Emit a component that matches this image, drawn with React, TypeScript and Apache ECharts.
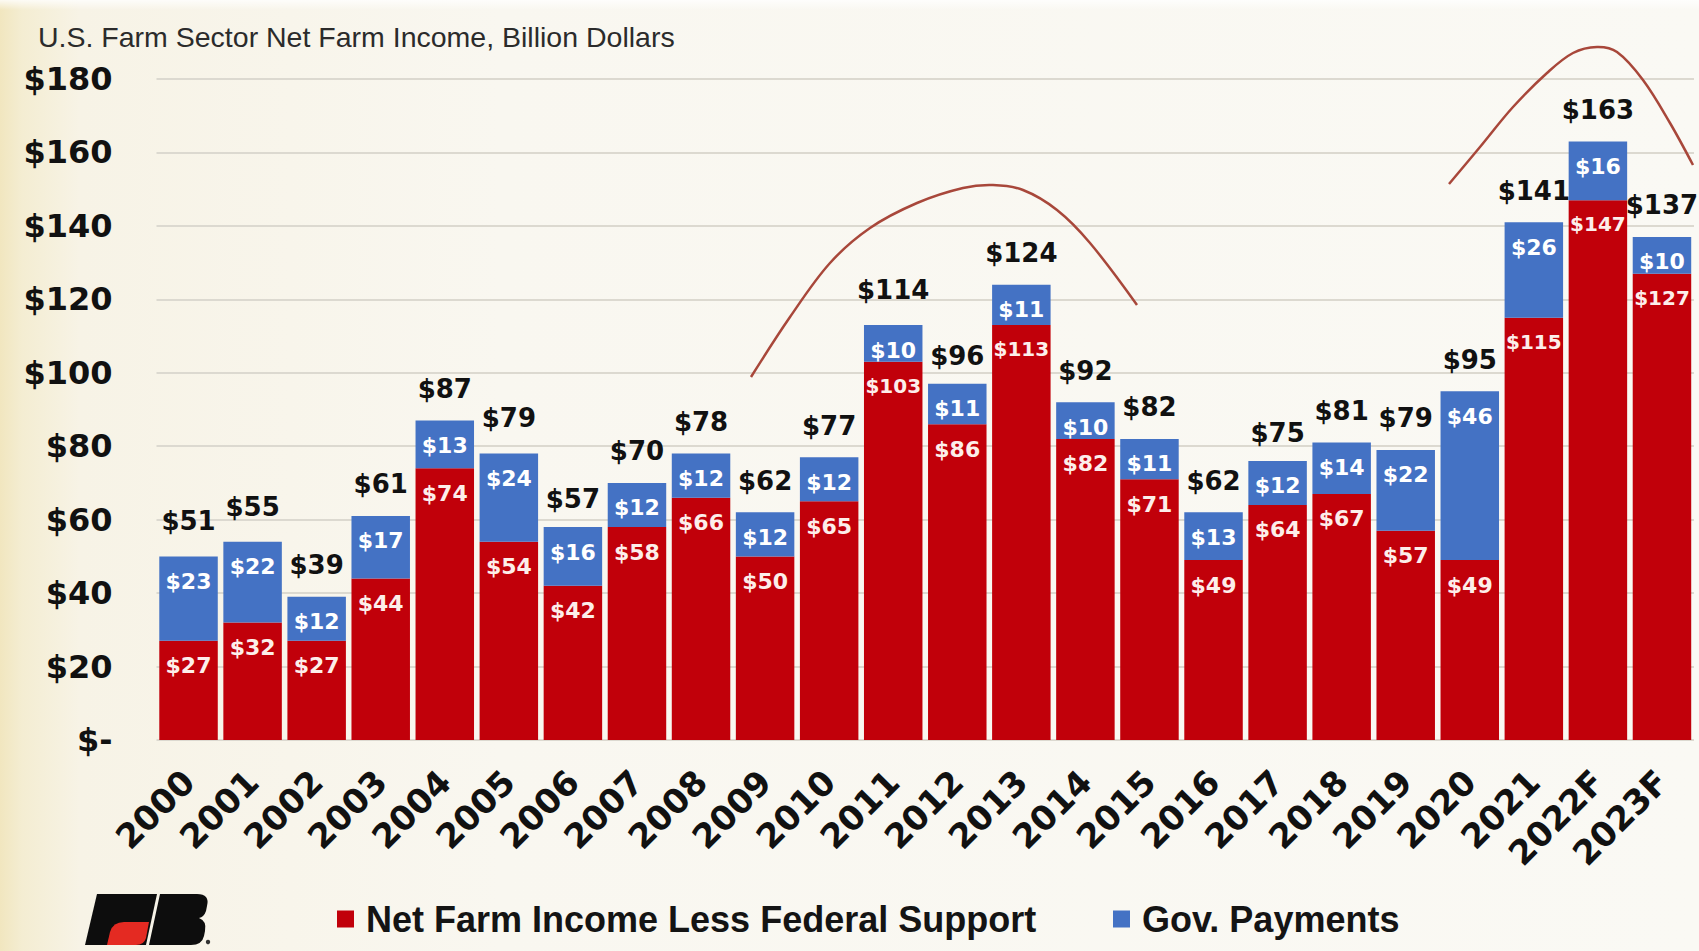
import React, { useEffect, useRef } from 'react';
import * as echarts from 'echarts';

const categories = ['2000', '2001', '2002', '2003', '2004', '2005', '2006', '2007', '2008', '2009', '2010', '2011', '2012', '2013', '2014', '2015', '2016', '2017', '2018', '2019', '2020', '2021', '2022F', '2023F'];
const netIncomeLessSupport = [27, 32, 27, 44, 74, 54, 42, 58, 66, 50, 65, 103, 86, 113, 82, 71, 49, 64, 67, 57, 49, 115, 147, 127];
const govPayments = [23, 22, 12, 17, 13, 24, 16, 12, 12, 12, 12, 10, 11, 11, 10, 11, 13, 12, 14, 22, 46, 26, 16, 10];
const totals = [51, 55, 39, 61, 87, 79, 57, 70, 78, 62, 77, 114, 96, 124, 92, 82, 62, 75, 81, 79, 95, 141, 163, 137];
const seriesNames = ['Net Farm Income Less Federal Support', 'Gov. Payments'];
const titleText = 'U.S. Farm Sector Net Farm Income, Billion Dollars';

const RED = '#c1000a';
const BLUE = '#4472c4';
const ARIAL = '"Liberation Sans", Arial, sans-serif';
const BOLD = '"DejaVu Sans", Verdana, sans-serif';

let registered = false;
function registerShapes() {
  if (registered) return;
  registered = true;
  echarts.graphic.registerShape(
    'fbLeaf',
    echarts.graphic.extendPath('M107 945 L110 932 Q113 922 124 922 L149 922 L146 938 Q144 945 136 945 Z', {})
  );
  echarts.graphic.registerShape(
    'fbB',
    echarts.graphic.extendPath('M160 894 L197 894 Q210 894 207 906 L206 911 Q204 917 199 918 Q207 921 205 931 L204 936 Q202 945 191 945 L149 945 Z', {})
  );
}

export default function App() {
  const ref = useRef<HTMLDivElement>(null);

  useEffect(() => {
    if (!ref.current) return;
    registerShapes();
    const chart = echarts.init(ref.current, undefined, { renderer: 'svg' });

    const inside = (color: string) => ({
      show: true,
      position: 'insideTop',
      distance: 14,
      color,
      fontFamily: BOLD,
      fontWeight: 'bold',
      fontSize: 22,
      formatter: (p: any) => '$' + p.value,
    });

    const legendBase = {
      top: 901,
      padding: 0,
      itemWidth: 17,
      itemHeight: 17,
      icon: 'rect',
      selectedMode: false,
      textStyle: {
        fontFamily: ARIAL,
        fontWeight: 'bold',
        fontSize: 36,
        color: '#141414',
        padding: [0, 0, 0, 7],
      },
    };

    chart.setOption({
      animation: false,
      title: {
        text: titleText,
        left: 38,
        top: 22,
        padding: 0,
        textStyle: { fontFamily: ARIAL, fontWeight: 'normal', fontSize: 28.5, color: '#2b2b2b' },
      },
      legend: [
        { ...legendBase, left: 337, data: [seriesNames[0]] },
        { ...legendBase, left: 1113, data: [seriesNames[1]] },
      ],
      grid: { left: 156.5, right: 5, top: 79, bottom: 211, containLabel: false },
      xAxis: {
        type: 'category',
        data: categories,
        axisLine: { show: false },
        axisTick: { show: false },
        axisLabel: {
          interval: 0,
          rotate: 45,
          margin: 36,
          padding: [16, 0, 0, 0],
          fontFamily: BOLD,
          fontWeight: 'bold',
          fontSize: 34,
          color: '#111',
        },
      },
      yAxis: {
        type: 'value',
        min: 0,
        max: 180,
        interval: 20,
        axisLine: { show: false },
        axisTick: { show: false },
        splitLine: { lineStyle: { color: '#dcd9d0', width: 2 } },
        axisLabel: {
          margin: 44,
          fontFamily: BOLD,
          fontWeight: 'bold',
          fontSize: 32,
          color: '#111',
          formatter: (v: number) => (v === 0 ? '$-' : '$' + v),
        },
      },
      series: [
        {
          name: seriesNames[0],
          type: 'bar',
          stack: 'income',
          barCategoryGap: '8.7%',
          itemStyle: { color: RED },
          label: inside('#fdeeea'),
          data: netIncomeLessSupport.map((v) => ({ value: v, label: { fontSize: v >= 100 ? 20 : 22 } })),
        },
        {
          name: seriesNames[1],
          type: 'bar',
          stack: 'income',
          itemStyle: { color: BLUE },
          label: inside('#ffffff'),
          data: govPayments.map((v) => ({ value: v, label: { fontSize: v >= 100 ? 20 : 22 } })),
        },
        {
          name: 'Total',
          type: 'scatter',
          symbolSize: 1,
          itemStyle: { color: 'rgba(0,0,0,0)', opacity: 1 },
          silent: true,
          z: 5,
          label: {
            show: true,
            position: 'top',
            distance: 18,
            fontFamily: BOLD,
            fontWeight: 'bold',
            fontSize: 26,
            color: '#111',
            opacity: 1,
            formatter: (p: any) => '$' + p.value,
          },
          data: totals,
        },
      ],
      graphic: {
        elements: [
          {
            type: 'polyline',
            silent: true,
            z: 100,
            shape: {
              points: [[751, 377], [790, 317], [830, 263], [870, 228], [917, 203], [963, 188], [993, 185], [1023, 190], [1057, 210], [1090, 243], [1137, 305]],
              smooth: 0.35,
            },
            style: { stroke: '#a8473a', lineWidth: 2.5, fill: null },
          },
          {
            type: 'polyline',
            silent: true,
            z: 100,
            shape: {
              points: [[1449, 184], [1480, 147], [1513, 107], [1547, 73], [1573, 53], [1597, 47], [1617, 52], [1643, 80], [1670, 123], [1693, 165]],
              smooth: 0.35,
            },
            style: { stroke: '#a8473a', lineWidth: 2.5, fill: null },
          },
          {
            type: 'polygon',
            silent: true,
            shape: { points: [[97, 894], [157, 894], [146, 945], [85, 945]] },
            style: { fill: '#0d0d0d' },
          },
          { type: 'fbB', silent: true, x: 0, y: 0, style: { fill: '#0d0d0d' } },
          { type: 'fbLeaf', silent: true, x: 0, y: 0, style: { fill: '#e42a22' } },
          { type: 'circle', silent: true, shape: { cx: 208, cy: 942, r: 2.2 }, style: { fill: '#333' } },
        ],
      },
    });

    return () => chart.dispose();
  }, []);

  return (
    <div
      style={{
        position: 'fixed',
        left: 0,
        top: 0,
        width: 1699,
        height: 951,
        background:
          'linear-gradient(180deg, rgba(255,255,255,0.8) 0px, rgba(255,255,255,0) 10px), linear-gradient(90deg, #f1e6bf 0px, #f4edd2 22px, #f7f3e6 80px, #f9f7f0 500px, #faf9f4 100%)',
      }}
    >
      <div ref={ref} style={{ width: 1699, height: 951 }} />
    </div>
  );
}
